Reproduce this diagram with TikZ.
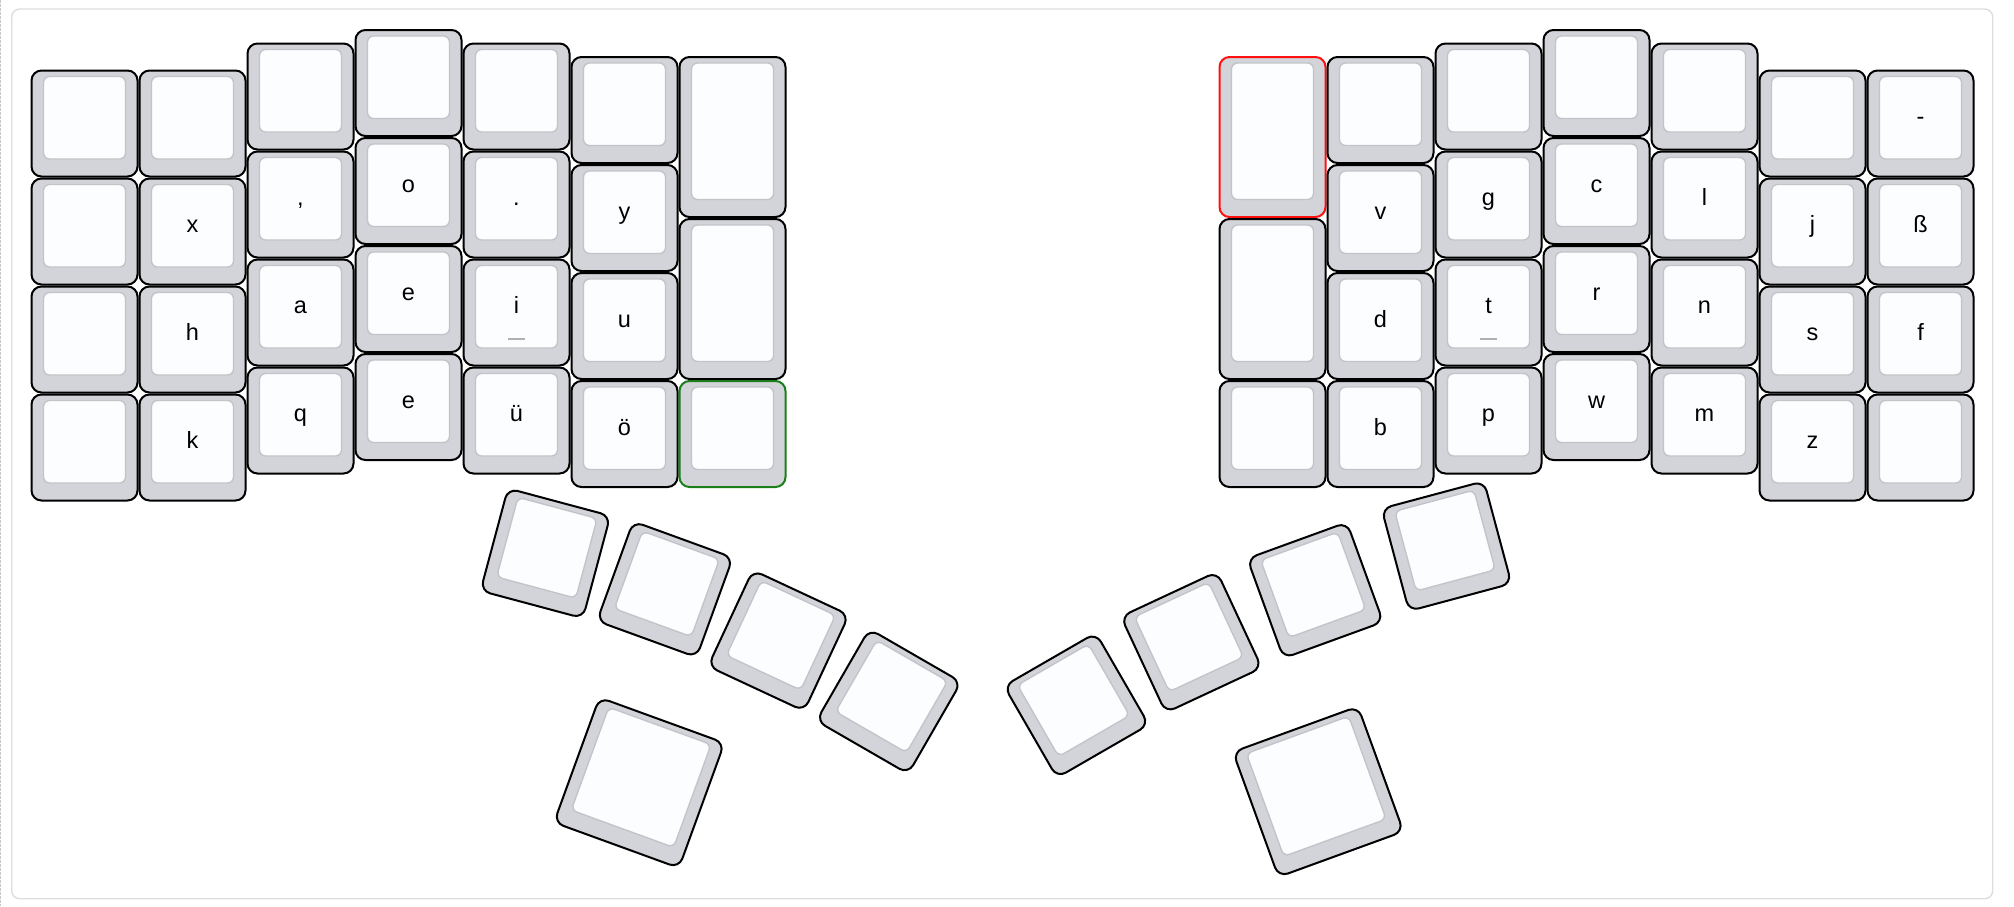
\documentclass[tikz,border=0pt]{standalone}
\usepackage{fontspec}
\setmainfont{Liberation Sans}
\definecolor{keygray}{HTML}{D3D4D9}
\definecolor{keytop}{HTML}{FCFDFE}
\definecolor{topedge}{HTML}{C3C4C9}
\definecolor{framegray}{HTML}{DDDDDD}
\definecolor{dashgray}{HTML}{C8C8C8}
\definecolor{hlred}{HTML}{FF1010}
\definecolor{hlgreen}{HTML}{1A7F1A}
\definecolor{barcol}{HTML}{B0B0B0}
\tikzset{
  keyouter/.style={draw=black, line width=2pt, fill=keygray, rounded corners=10pt},
  keyinner/.style={draw=topedge, line width=1.4pt, fill=keytop, rounded corners=6pt},
  keylabel/.style={anchor=base, inner sep=0pt, outer sep=0pt, font=\fontsize{23.5}{28}\selectfont, text=black},
  homebar/.style={draw=barcol, line width=2pt},
  redkey/.style={draw=hlred},
  greenkey/.style={draw=hlgreen},
  kbframe/.style={draw=framegray, line width=1.4pt, rounded corners=8pt},
  pagedash/.style={draw=dashgray, line width=1.4pt, dash pattern=on 2.7pt off 1.3pt},
}
% #1 outer style, #2 name, #3 cx, #4 cy, #5 angle (screen clockwise), #6 width, #7 height, #8 label
\newcommand\kcap[8][]{%
  \begin{scope}[shift={({#3},{#4})},rotate={-1*(#5)}]
    \path[keyouter,#1] ({-(#6)/2+1},{-(#7)/2+1}) rectangle ({(#6)/2-1},{(#7)/2-1});
    \path[keyinner] ({-(#6)/2+13},{-(#7)/2+7}) rectangle ({(#6)/2-13},{(#7)/2-18.5});
    \def\kclabel{#8}%
    \ifx\kclabel\empty\else\node[keylabel] (#2) at (0,1.0) {#8};\fi
  \end{scope}}
% grid key: #2 name, #3 column, #4 row position (units), #5 w, #6 h, #7 label
\newcommand\gkey[7][]{%
  \kcap[#1]{#2}{30.5+(#3)*108+(#5)*54}{29+(#4)*108+(#6)*54}{0}{(#5)*108}{(#6)*108}{#7}}
\begin{document}
\begin{tikzpicture}[x=1pt,y=-1pt]
\useasboundingbox (0,0) rectangle (2014,906);
\path[pagedash] (0.7,0) -- (0.7,906);
\path[kbframe] (11.7,9) rectangle (1992.7,898.7);
% ---- left half ----
\gkey{L00}{0}{0.375}{1}{1}{}
\gkey{L01}{0}{1.375}{1}{1}{}
\gkey{L02}{0}{2.375}{1}{1}{}
\gkey{L03}{0}{3.375}{1}{1}{}
\gkey{L10}{1}{0.375}{1}{1}{}
\gkey{K-x}{1}{1.375}{1}{1}{x}
\gkey{K-h}{1}{2.375}{1}{1}{h}
\gkey{K-k}{1}{3.375}{1}{1}{k}
\gkey{L20}{2}{0.125}{1}{1}{}
\gkey{K-comma}{2}{1.125}{1}{1}{,}
\gkey{K-a}{2}{2.125}{1}{1}{a}
\gkey{K-q}{2}{3.125}{1}{1}{q}
\gkey{L30}{3}{0}{1}{1}{}
\gkey{K-o}{3}{1}{1}{1}{o}
\gkey{K-e1}{3}{2}{1}{1}{e}
\gkey{K-e2}{3}{3}{1}{1}{e}
\gkey{L40}{4}{0.125}{1}{1}{}
\gkey{K-dot}{4}{1.125}{1}{1}{.}
\gkey{K-i}{4}{2.125}{1}{1}{i}
\gkey{K-ue}{4}{3.125}{1}{1}{ü}
\gkey{L50}{5}{0.25}{1}{1}{}
\gkey{K-y}{5}{1.25}{1}{1}{y}
\gkey{K-u}{5}{2.25}{1}{1}{u}
\gkey{K-oe}{5}{3.25}{1}{1}{ö}
\gkey{L60}{6}{0.25}{1}{1.5}{}
\gkey{L61}{6}{1.75}{1}{1.5}{}
\gkey[greenkey]{L62}{6}{3.25}{1}{1}{}
% ---- right half ----
\gkey[redkey]{R110}{11}{0.25}{1}{1.5}{}
\gkey{R111}{11}{1.75}{1}{1.5}{}
\gkey{R112}{11}{3.25}{1}{1}{}
\gkey{R120}{12}{0.25}{1}{1}{}
\gkey{K-v}{12}{1.25}{1}{1}{v}
\gkey{K-d}{12}{2.25}{1}{1}{d}
\gkey{K-b}{12}{3.25}{1}{1}{b}
\gkey{R130}{13}{0.125}{1}{1}{}
\gkey{K-g}{13}{1.125}{1}{1}{g}
\gkey{K-t}{13}{2.125}{1}{1}{t}
\gkey{K-p}{13}{3.125}{1}{1}{p}
\gkey{R140}{14}{0}{1}{1}{}
\gkey{K-c}{14}{1}{1}{1}{c}
\gkey{K-r}{14}{2}{1}{1}{r}
\gkey{K-w}{14}{3}{1}{1}{w}
\gkey{R150}{15}{0.125}{1}{1}{}
\gkey{K-l}{15}{1.125}{1}{1}{l}
\gkey{K-n}{15}{2.125}{1}{1}{n}
\gkey{K-m}{15}{3.125}{1}{1}{m}
\gkey{R160}{16}{0.375}{1}{1}{}
\gkey{K-j}{16}{1.375}{1}{1}{j}
\gkey{K-s}{16}{2.375}{1}{1}{s}
\gkey{K-z}{16}{3.375}{1}{1}{z}
\gkey{K-minus}{17}{0.375}{1}{1}{-}
\gkey{K-sz}{17}{1.375}{1}{1}{ß}
\gkey{K-f}{17}{2.375}{1}{1}{f}
\gkey{R173}{17}{3.375}{1}{1}{}
% homing bars
\draw[homebar] (K-i.base) ++(-8.3,25.4) -- ++(16.6,0);
\draw[homebar] (K-t.base) ++(-8.3,25.4) -- ++(16.6,0);
% ---- thumb clusters ----
\kcap{LT1}{545.4}{553.3}{15}{108}{108}{}
\kcap{LT2}{664.9}{589.3}{20}{108}{108}{}
\kcap{LT3}{778.5}{640.6}{25}{108}{108}{}
\kcap{LT4}{888.75}{701.4}{30}{108}{108}{}
\kcap{LTB}{639.2}{782.7}{20}{135}{135}{}
\kcap{RT4}{1076.4}{705.3}{-30}{108}{108}{}
\kcap{RT3}{1191.35}{642.2}{-25}{108}{108}{}
\kcap{RT2}{1315.2}{590.25}{-20}{108}{108}{}
\kcap{RT1}{1446.5}{546.1}{-15}{108}{108}{}
\kcap{RTB}{1318.2}{791.7}{-20}{135}{135}{}
\end{tikzpicture}
\end{document}
